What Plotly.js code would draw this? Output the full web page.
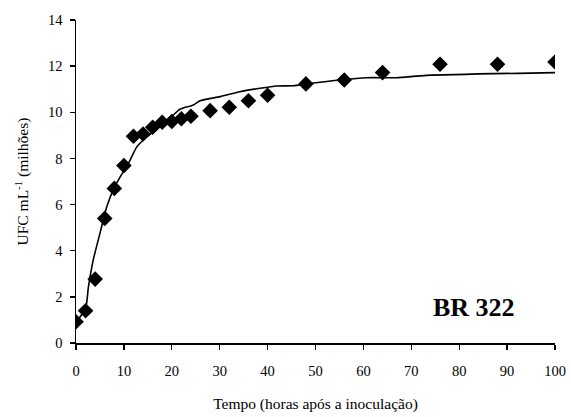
<!DOCTYPE html>
<html><head><meta charset="utf-8">
<script src="https://cdn.plot.ly/plotly-3.0.1.min.js"></script>
<style>html,body{margin:0;padding:0;background:#fff}</style>
</head><body><div id="c" style="width:571px;height:417px"></div>
<script>
const obsHours = [0,2,4,6,8,10,12,14,16,18,20,22,24,28,32,36,40,48,56,64,76,88,100];
const obsUFC   = [0.92,1.4,2.77,5.4,6.7,7.69,8.96,9.06,9.35,9.57,9.6,9.72,9.83,10.07,10.22,10.5,10.74,11.23,11.4,11.72,12.08,12.08,12.18];
const fitHours = [0,2,2.6,3.6,5,6.4,8.1,11.3,12.7,14.8,17.5,20.3,21.7,24.5,25.9,30.1,34.2,38.4,41.9,45.4,48.1,55,60.7,66.9,73.2,100];
const fitUFC   = [0.9,1.5,2.44,3.6,4.75,5.9,6.78,7.93,8.5,8.94,9.37,9.88,10.13,10.32,10.5,10.68,10.89,11.04,11.14,11.15,11.23,11.4,11.5,11.5,11.6,11.72];
const xTicks = [0,10,20,30,40,50,60,70,80,90,100];
const yTicks = [0,2,4,6,8,10,12,14];
const label = "BR 322";

const font = {family: "Liberation Serif", color: "#000"};
const traces = [
  {x: fitHours, y: fitUFC, mode: "lines", line: {color: "#000", width: 1.6, shape: "spline", smoothing: 0.6}, hoverinfo: "skip"},
  {x: obsHours, y: obsUFC, mode: "markers", marker: {symbol: "diamond", size: 12, color: "#000"}}
];
const axisCommon = {showline: true, linecolor: "#000", linewidth: 1.5, ticks: "outside", ticklen: 5, tickwidth: 1.3, tickcolor: "#000", showgrid: false, zeroline: false, tickfont: Object.assign({size: 14.5}, font)};
const layout = {
  width: 571, height: 417,
  margin: {l: 76, r: 16, t: 20, b: 74},
  showlegend: false,
  paper_bgcolor: "#fff", plot_bgcolor: "#fff",
  font: font,
  xaxis: Object.assign({}, axisCommon, {range: [0, 100], tickvals: xTicks, ticktext: xTicks.map(String), ticklabelstandoff: 9,
    title: {text: "Tempo (horas após a inoculação)", font: Object.assign({size: 15.5}, font), standoff: 20}}),
  yaxis: Object.assign({}, axisCommon, {range: [0, 14], tickvals: yTicks, ticktext: yTicks.map(String), ticklabelstandoff: 4,
    title: {text: "UFC mL<sup>-1</sup> (milhões)", font: Object.assign({size: 15.5}, font), standoff: 15}}),
  annotations: [{x: 83.1, y: 1.52, xref: "x", yref: "y", text: "<b>" + label + "</b>", showarrow: false, font: Object.assign({size: 26}, font)}]
};
Plotly.newPlot("c", traces, layout, {staticPlot: true});
</script></body></html>
